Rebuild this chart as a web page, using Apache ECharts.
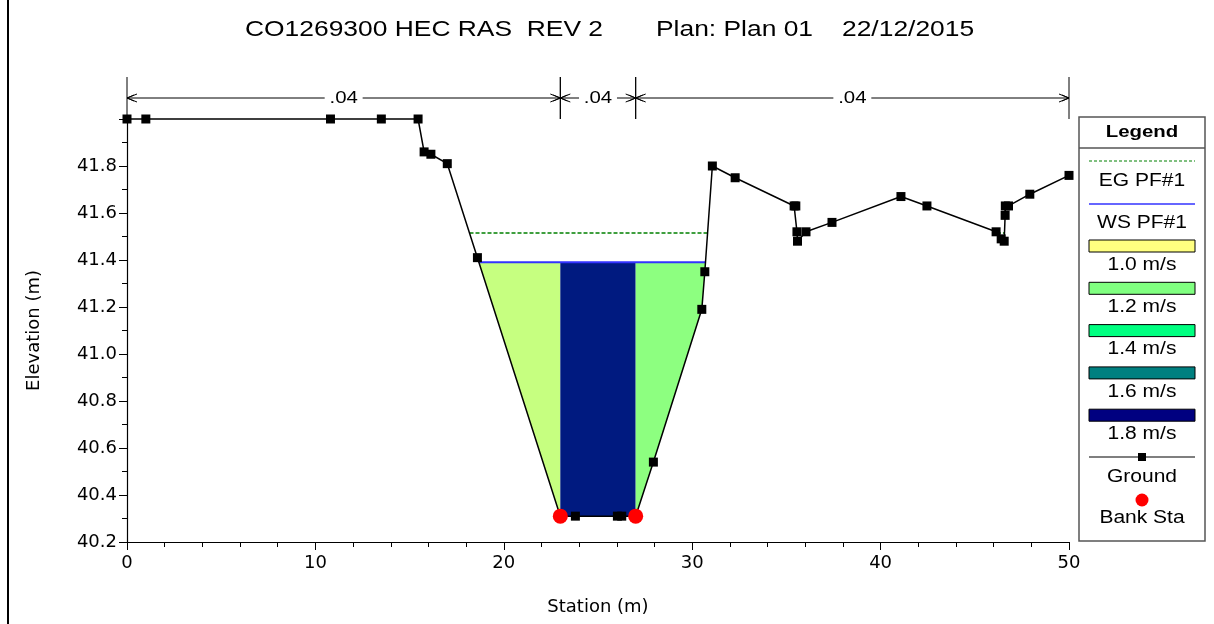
<!DOCTYPE html>
<html>
<head>
<meta charset="utf-8">
<script src="https://cdn.jsdelivr.net/npm/echarts@6/dist/echarts.min.js"></script>
<style>
  html, body { margin: 0; padding: 0; background: #fff; }
  #chart { width: 1214px; height: 624px; }
</style>
</head>
<body>
<div id="chart"></div>
<script>
// ground profile (station m, elevation m)
var groundX = [0, 1.0, 10.8, 13.5, 15.45, 15.77, 16.13, 17.0, 18.6, 23.0, 23.8, 26.03, 26.26, 27.0,
    27.94, 30.51, 30.67, 31.07, 32.28, 35.41, 35.5, 35.56, 35.59, 36.04, 37.42, 41.08, 42.46,
    46.13, 46.4, 46.56, 46.61, 46.62, 46.79, 47.92, 50.0];
var groundY = [42.0, 42.0, 42.0, 42.0, 42.0, 41.86, 41.85, 41.81, 41.41, 40.31, 40.31, 40.31, 40.31, 40.31,
    40.54, 41.19, 41.35, 41.80, 41.75, 41.63, 41.63, 41.52, 41.48, 41.52, 41.56, 41.67, 41.63,
    41.52, 41.49, 41.48, 41.59, 41.63, 41.63, 41.68, 41.76];

var bankX = [23.0, 27.0];
var bankY = [40.31, 40.31];

var wsElev = 41.39;   // WS PF#1
var egElev = 41.515;  // EG PF#1

// velocity per flow subsection (left, channel, right), m/s
var subVel = [1.09, 1.76, 1.18];

// legend velocity classes
var velStops = [1.0, 1.2, 1.4, 1.6, 1.8];
var velColors = ['#ffff80', '#80ff80', '#00ff80', '#008080', '#000080'];

// manning's n regions
var nStations = [0, 23, 27, 50];
var nValues = ['.04', '.04', '.04'];

var titleParts = ['CO1269300 HEC RAS  REV 2', 'Plan: Plan 01', '22/12/2015'];
var titleLeft = [245, 656, 842];

var FONT = '"Liberation Sans", Arial, sans-serif';
var AXFONT = '"DejaVu Sans", sans-serif';

function groundAt(x) {
    for (var i = 0; i < groundX.length - 1; i++) {
        if (x >= groundX[i] && x <= groundX[i + 1] && groundX[i + 1] > groundX[i]) {
            var t = (x - groundX[i]) / (groundX[i + 1] - groundX[i]);
            return groundY[i] + t * (groundY[i + 1] - groundY[i]);
        }
    }
    return groundY[groundY.length - 1];
}

// where the ground is below a water level
function wetSegments(level) {
    var segs = [], start = null;
    for (var i = 0; i < groundX.length - 1; i++) {
        var x1 = groundX[i], y1 = groundY[i], x2 = groundX[i + 1], y2 = groundY[i + 1];
        if (y1 >= level && y2 < level) {
            start = x1 + (level - y1) / (y2 - y1) * (x2 - x1);
        } else if (y1 < level && y2 >= level && start !== null) {
            segs.push([start, x1 + (level - y1) / (y2 - y1) * (x2 - x1)]);
            start = null;
        }
    }
    return segs;
}

// level line data, broken between wet segments
function levelLine(segs, level) {
    var d = [];
    segs.forEach(function (sg, i) {
        if (i > 0) d.push([(segs[i - 1][1] + sg[0]) / 2, null]);
        d.push([sg[0], level], [sg[1], level]);
    });
    return d;
}

function hex(c) { return [parseInt(c.substr(1, 2), 16), parseInt(c.substr(3, 2), 16), parseInt(c.substr(5, 2), 16)]; }
function velColor(v) {
    var i = 0;
    while (i < velStops.length - 2 && v > velStops[i + 1]) i++;
    var t = Math.max(0, Math.min(1, (v - velStops[i]) / (velStops[i + 1] - velStops[i])));
    var a = hex(velColors[i]), b = hex(velColors[i + 1]);
    return 'rgb(' + a.map(function (c, k) { return Math.round(c + t * (b[k] - c)); }).join(',') + ')';
}

var wsSegs = wetSegments(wsElev);
var egSegs = wetSegments(egElev);
var mainWs = wsSegs[0];
var subBounds = [mainWs[0], bankX[0], bankX[1], mainWs[1]];
var subData = [];
for (var s = 0; s < 3; s++) subData.push([subBounds[s], subBounds[s + 1], subVel[s]]);

var nData = [];
for (var k = 0; k < nValues.length; k++) nData.push([nStations[k], nStations[k + 1]]);

var chart = echarts.init(document.getElementById('chart'));

function txt(x, y, text, size, opts) {
    opts = opts || {};
    return {
        type: 'text', x: x, y: y, scaleX: 1.2, z: 100,
        style: {
            text: text, fill: '#000',
            font: (opts.bold ? 'bold ' : '') + size + 'px ' + FONT,
            textAlign: opts.align || 'center', align: opts.align || 'center',
            textVerticalAlign: 'middle', verticalAlign: 'middle'
        }
    };
}

// legend box (drawn like the HEC-RAS one)
var LX = 1079, LW = 126, LC = LX + LW / 2;
var legendEls = [
    { type: 'rect', shape: { x: LX, y: 117, width: LW, height: 424 }, style: { fill: '#fff', stroke: '#555', lineWidth: 1.5 }, z: 90 },
    { type: 'line', shape: { x1: LX, y1: 148, x2: LX + LW, y2: 148 }, style: { stroke: '#555', lineWidth: 1.5 }, z: 91 },
    txt(LC, 132, 'Legend', 17, { bold: true }),
    { type: 'line', shape: { x1: 1089, y1: 161, x2: 1195, y2: 161 }, style: { stroke: '#008000', lineWidth: 1, lineDash: [3, 2] }, z: 91 },
    txt(LC, 181, 'EG PF#1', 17.5),
    { type: 'line', shape: { x1: 1089, y1: 204, x2: 1195, y2: 204 }, style: { stroke: '#3333ff', lineWidth: 1.5 }, z: 91 },
    txt(LC, 223, 'WS PF#1', 17.5)
];
velStops.forEach(function (v, i) {
    var y0 = 240 + i * 42.3;
    legendEls.push({ type: 'rect', shape: { x: 1089, y: y0, width: 106, height: 12 }, style: { fill: velColors[i], stroke: '#000', lineWidth: 1 }, z: 91 });
    legendEls.push(txt(LC, y0 + 25, v.toFixed(1) + ' m/s', 17.5));
});
legendEls.push({ type: 'line', shape: { x1: 1089, y1: 457, x2: 1195, y2: 457 }, style: { stroke: '#000', lineWidth: 1.2 }, z: 91 });
legendEls.push({ type: 'rect', shape: { x: LC - 4, y: 453, width: 8, height: 8 }, style: { fill: '#000' }, z: 92 });
legendEls.push(txt(LC, 477, 'Ground', 17.5));
legendEls.push({ type: 'circle', shape: { cx: LC, cy: 500, r: 6.5 }, style: { fill: '#ff0000' }, z: 92 });
legendEls.push(txt(LC, 518, 'Bank Sta', 17.5));

var titleEls = titleParts.map(function (t, i) { return txt(titleLeft[i], 30, t, 22, { align: 'left' }); });

var option = {
    animation: false,
    backgroundColor: '#fff',
    graphic: [{ type: 'rect', shape: { x: 7, y: 0, width: 2, height: 624 }, style: { fill: '#000' } }]
        .concat(titleEls).concat(legendEls),
    grid: [
        { left: 127, right: 145, top: 119, bottom: 82 },
        { left: 127, right: 145, top: 77, height: 42 }
    ],
    xAxis: [{
        type: 'value', gridIndex: 0, min: 0, max: 50, interval: 10,
        name: 'Station (m)', nameLocation: 'middle', nameGap: 56,
        nameTextStyle: { fontFamily: AXFONT, fontSize: 18, color: '#000' },
        axisLine: { show: true, onZero: false, lineStyle: { color: '#000', width: 1.2 } },
        axisTick: { show: true, length: 8, lineStyle: { color: '#000' } },
        minorTick: { show: true, splitNumber: 5, length: 5, lineStyle: { color: '#000' } },
        axisLabel: { fontFamily: AXFONT, fontSize: 18, color: '#000', margin: 12 },
        splitLine: { show: false }
    }, {
        type: 'value', gridIndex: 1, min: 0, max: 50, show: false
    }],
    yAxis: [{
        type: 'value', gridIndex: 0, min: 40.2, max: 42.0, interval: 0.2,
        name: 'Elevation (m)', nameLocation: 'middle', nameGap: 84,
        nameTextStyle: { fontFamily: AXFONT, fontSize: 18, color: '#000' },
        axisLine: { show: true, onZero: false, lineStyle: { color: '#000', width: 1.2 } },
        axisTick: { show: true, length: 8, lineStyle: { color: '#000' } },
        minorTick: { show: true, splitNumber: 2, length: 5, lineStyle: { color: '#000' } },
        axisLabel: {
            fontFamily: AXFONT, fontSize: 18, color: '#000', margin: 10,
            formatter: function (v) { return v > 41.85 ? '' : v.toFixed(1); }
        },
        splitLine: { show: false }
    }, {
        type: 'value', gridIndex: 1, min: 0, max: 1, show: false
    }],
    series: [
        {
            // velocity distribution fill
            type: 'custom', xAxisIndex: 0, yAxisIndex: 0, z: 1,
            data: subData, encode: { x: [0, 1] },
            renderItem: function (params, api) {
                var a = api.value(0), b = api.value(1), v = api.value(2);
                var pts = [[a, wsElev], [b, wsElev], [b, groundAt(b)]];
                for (var i = groundX.length - 1; i >= 0; i--) {
                    if (groundX[i] > a && groundX[i] < b) pts.push([groundX[i], groundY[i]]);
                }
                pts.push([a, groundAt(a)]);
                return {
                    type: 'polygon',
                    shape: { points: pts.map(function (p) { return api.coord(p); }) },
                    style: { fill: velColor(v), stroke: null }
                };
            }
        },
        {
            name: 'EG PF#1', type: 'line', xAxisIndex: 0, yAxisIndex: 0, z: 3,
            data: levelLine(egSegs, egElev), connectNulls: false,
            symbol: 'none', silent: true,
            lineStyle: { color: '#008000', width: 1.3, type: [4, 2] }
        },
        {
            name: 'WS PF#1', type: 'line', xAxisIndex: 0, yAxisIndex: 0, z: 4,
            data: levelLine(wsSegs, wsElev), connectNulls: false,
            symbol: 'none', silent: true,
            lineStyle: { color: '#3333ff', width: 2 }
        },
        {
            name: 'Ground', type: 'line', xAxisIndex: 0, yAxisIndex: 0, z: 5, clip: false,
            data: groundX.map(function (x, i) { return [x, groundY[i]]; }),
            symbol: 'rect', symbolSize: 9, showAllSymbol: true,
            itemStyle: { color: '#000', opacity: 1 },
            lineStyle: { color: '#000', width: 1.5 }
        },
        {
            name: 'Bank Sta', type: 'scatter', xAxisIndex: 0, yAxisIndex: 0, z: 6,
            data: bankX.map(function (x, i) { return [x, bankY[i]]; }),
            symbol: 'circle', symbolSize: 15,
            itemStyle: { color: '#ff0000', opacity: 1, borderWidth: 0 }
        },
        {
            // manning's n brackets above the plot
            type: 'custom', xAxisIndex: 1, yAxisIndex: 1, z: 5,
            data: nData, encode: { x: [0, 1] },
            renderItem: function (params, api) {
                var a = api.value(0), b = api.value(1);
                var pa = api.coord([a, 0.5]), pb = api.coord([b, 0.5]);
                var top = api.coord([a, 1])[1], bot = api.coord([a, 0])[1];
                var ls = { stroke: '#000', lineWidth: 1 };
                var mid = (pa[0] + pb[0]) / 2, y = pa[1];
                return {
                    type: 'group',
                    children: [
                        { type: 'line', shape: { x1: pa[0], y1: top, x2: pa[0], y2: bot }, style: ls },
                        { type: 'line', shape: { x1: pb[0], y1: top, x2: pb[0], y2: bot }, style: ls },
                        { type: 'line', shape: { x1: pa[0], y1: y, x2: pb[0], y2: y }, style: ls },
                        { type: 'polyline', shape: { points: [[pa[0] + 10, y - 4], [pa[0], y], [pa[0] + 10, y + 4]] }, style: { stroke: '#000', lineWidth: 1, fill: null } },
                        { type: 'polyline', shape: { points: [[pa[0] + 7, y - 3], [pa[0], y], [pa[0] + 7, y + 3]] }, style: { stroke: '#000', lineWidth: 1, fill: null } },
                        { type: 'polyline', shape: { points: [[pb[0] - 10, y - 4], [pb[0], y], [pb[0] - 10, y + 4]] }, style: { stroke: '#000', lineWidth: 1, fill: null } },
                        { type: 'polyline', shape: { points: [[pb[0] - 7, y - 3], [pb[0], y], [pb[0] - 7, y + 3]] }, style: { stroke: '#000', lineWidth: 1, fill: null } },
                        {
                            type: 'text', x: mid, y: y, scaleX: 1.2,
                            style: {
                                text: nValues[params.dataIndex], fill: '#000', font: '17px ' + FONT,
                                align: 'center', verticalAlign: 'middle',
                                backgroundColor: '#fff', padding: [0, 4]
                            }
                        }
                    ]
                };
            }
        }
    ]
};

chart.setOption(option);
</script>
</body>
</html>
